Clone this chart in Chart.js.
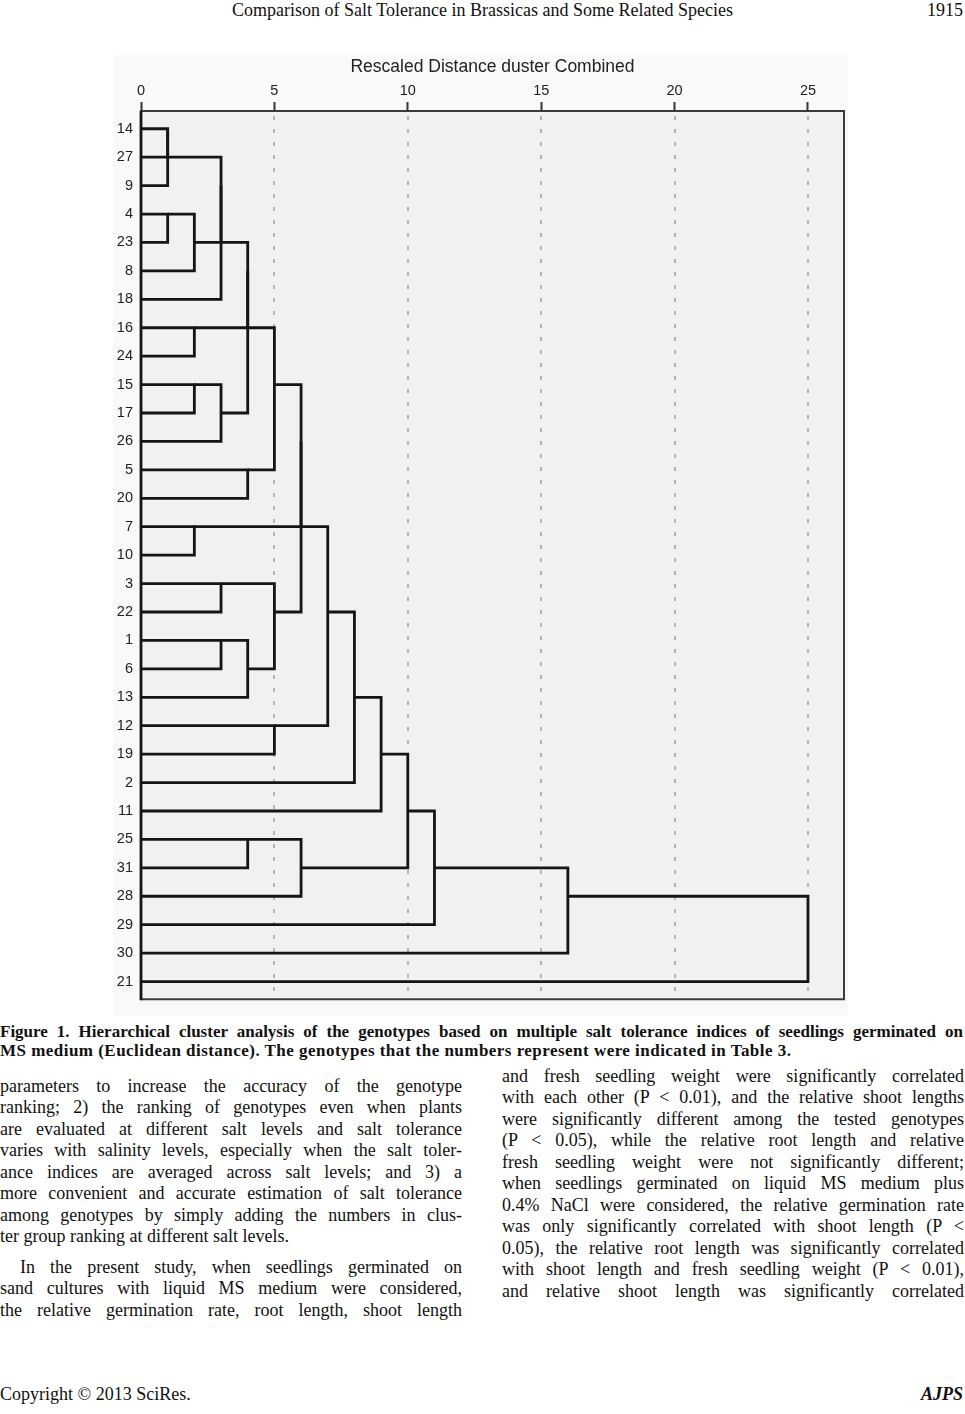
<!DOCTYPE html>
<html>
<head>
<meta charset="utf-8">
<script src="https://cdn.jsdelivr.net/npm/chart.js@4.4.0/dist/chart.umd.min.js"></script>
<style>
  html, body { margin: 0; padding: 0; background: #fff; }
  body { width: 965px; height: 1414px; position: relative; overflow: hidden;
         font-family: 'Liberation Serif', 'Times New Roman', serif; color: #111; }
  .ln { position: absolute; white-space: nowrap; height: 22px; line-height: 22px; font-size: 18px; }
  .j { text-align: justify; text-align-last: justify; white-space: normal; overflow: hidden; }
  .cap { font-weight: bold; font-size: 17px; }
  #wrap { position: absolute; left: 113px; top: 55px; width: 735px; height: 961px; }
</style>
</head>
<body>
<div class="ln" style="left:0;width:965px;top:-1px;text-align:center;">Comparison of Salt Tolerance in Brassicas and Some Related Species</div>
<div class="ln" style="right:2px;top:-1px;">1915</div>

<div id="wrap"><canvas id="dendro" width="735" height="961"></canvas></div>

<div class="ln j cap" style="left:0;width:963px;top:1021px;">Figure 1. Hierarchical cluster analysis of the genotypes based on multiple salt tolerance indices of seedlings germinated on</div>
<div class="ln cap" style="left:0;top:1040px;letter-spacing:0.47px;">MS medium (Euclidean distance). The genotypes that the numbers represent were indicated in Table 3.</div>

<div class="ln" style="left:0;top:1383px;">Copyright © 2013 SciRes.</div>
<div class="ln" style="right:2px;top:1383px;font-weight:bold;font-style:italic;">AJPS</div>

<script>
// genotype order down the dendrogram
const genotypes = ['14', '27', '9', '4', '23', '8', '18', '16', '24', '15', '17', '26', '5', '20', '7',
                   '10', '3', '22', '1', '6', '13', '12', '19', '2', '11', '25', '31', '28', '29', '30', '21'];

// agglomeration steps: a string is a genotype, a number is an earlier step
const mergeLeft  = ['14', 0, '4', 2, 1, 4, '16', '15', 7, 5, 9, '5', 10, '7', '3',
                    '1', 15, 14, 12, 18, '12', 19, 21, 22, '25', 24, 23, 26, 27, 28];
const mergeRight = ['27', '9', '23', '8', 3, '18', '24', '17', '26', 6, 8, '20', 11, '10', '22',
                    '6', '13', 16, 13, 17, '19', 20, '2', '11', '31', '28', 25, '29', '30', '21'];
const mergeDist  = [1, 1, 1, 2, 3, 3, 2, 2, 3, 4, 4, 4, 5, 2, 3,
                    3, 4, 5, 6, 6, 5, 7, 8, 9, 4, 6, 10, 11, 16, 25];

const distTicks = [0, 5, 10, 15, 20, 25];
const gridTicks = [5, 10, 15, 20, 25];

const leftLines = [
    'parameters to increase the accuracy of the genotype',
    'ranking; 2) the ranking of genotypes even when plants',
    'are evaluated at different salt levels and salt tolerance',
    'varies with salinity levels, especially when the salt toler-',
    'ance indices are averaged across salt levels; and 3) a',
    'more convenient and accurate estimation of salt tolerance',
    'among genotypes by simply adding the numbers in clus-',
    'ter group ranking at different salt levels.',
    'In the present study, when seedlings germinated on',
    'sand cultures with liquid MS medium were considered,',
    'the relative germination rate, root length, shoot length'
];
const rightLines = [
    'and fresh seedling weight were significantly correlated',
    'with each other (P < 0.01), and the relative shoot lengths',
    'were significantly different among the tested genotypes',
    '(P < 0.05), while the relative root length and relative',
    'fresh seedling weight were not significantly different;',
    'when seedlings germinated on liquid MS medium plus',
    '0.4% NaCl were considered, the relative germination rate',
    'was only significantly correlated with shoot length (P <',
    '0.05), the relative root length was significantly correlated',
    'with shoot length and fresh seedling weight (P < 0.01),',
    'and relative shoot length was significantly correlated'
];

function addLines(lines, left, width, firstTop, extra) {
    lines.forEach((t, i) => {
        const d = document.createElement('div');
        let top = firstTop + i * 21.45;
        let l = left, w = width;
        const last = extra && extra.lastOf && extra.lastOf.includes(i);
        if (extra && extra.gapAfter !== undefined && i > extra.gapAfter) top += extra.gap;
        if (extra && extra.indent && extra.indent.includes(i)) { l += 20; w -= 20; }
        d.className = last ? 'ln' : 'ln j';
        d.style.left = l + 'px';
        d.style.width = w + 'px';
        d.style.top = top + 'px';
        d.textContent = t;
        document.body.appendChild(d);
    });
}
addLines(leftLines, 0, 462, 1075, { lastOf: [7], gapAfter: 7, gap: 9, indent: [8] });
addLines(rightLines, 502, 462, 1065, {});

// build fork polylines from the merge table
const nodes = [];
function nodeOf(ref) {
    if (typeof ref === 'string') return { row: genotypes.indexOf(ref), h: 0 };
    return nodes[ref];
}
const forks = mergeDist.map((d, i) => {
    const a = nodeOf(mergeLeft[i]);
    const b = nodeOf(mergeRight[i]);
    nodes[i] = { row: Math.floor((a.row + b.row) / 2), h: d };
    return [{ x: a.h, y: a.row }, { x: d, y: a.row }, { x: d, y: b.row }, { x: b.h, y: b.row }];
});

const panelPlugin = {
    id: 'panel',
    beforeDraw(chart) {
        const { ctx, chartArea: a, scales } = chart;
        ctx.save();
        ctx.fillStyle = '#f9f9f9';
        ctx.fillRect(0, 0, chart.width, chart.height);
        ctx.fillStyle = '#f1f1f1';
        ctx.fillRect(a.left, a.top, a.right - a.left, a.bottom - a.top);
        ctx.strokeStyle = '#b4b4b4';
        ctx.lineWidth = 2;
        ctx.setLineDash([4, 9]);
        gridTicks.forEach(v => {
            const x = Math.round(scales.x.getPixelForValue(v));
            ctx.beginPath();
            ctx.moveTo(x, a.top + 5);
            ctx.lineTo(x, a.bottom);
            ctx.stroke();
        });
        ctx.restore();
    },
    afterDatasetsDraw(chart) {
        const { ctx, chartArea: a } = chart;
        ctx.save();
        ctx.strokeStyle = '#3c3c3c';
        ctx.lineWidth = 2;
        ctx.beginPath();
        ctx.moveTo(a.left, a.bottom);
        ctx.lineTo(a.right, a.bottom);
        ctx.lineTo(a.right, a.top);
        ctx.stroke();
        ctx.strokeStyle = '#151515';
        ctx.lineWidth = 2.8;
        ctx.beginPath();
        ctx.moveTo(a.left, a.top);
        ctx.lineTo(a.left, a.bottom + 1);
        ctx.stroke();
        ctx.restore();
    }
};

const ctx = document.getElementById('dendro').getContext('2d');
new Chart(ctx, {
    type: 'scatter',
    data: {
        datasets: forks.map(pts => ({
            data: pts,
            showLine: true,
            borderColor: '#151515',
            borderWidth: 2.8,
            pointRadius: 0,
            pointHoverRadius: 0,
            fill: false,
            tension: 0,
            clip: false,
            borderJoinStyle: 'miter'
        }))
    },
    options: {
        responsive: false,
        animation: false,
        layout: { padding: { left: 0, right: 4, top: 0, bottom: 5 } },
        plugins: { legend: { display: false }, tooltip: { enabled: false } },
        scales: {
            x: {
                type: 'linear',
                position: 'top',
                min: 0,
                max: 26.35,
                afterBuildTicks: s => { s.ticks = distTicks.map(v => ({ value: v })); },
                afterFit: s => { s.height = 56; },
                ticks: { font: { family: 'Liberation Sans', size: 14.5 }, color: '#222', padding: 2, maxRotation: 0 },
                grid: { drawOnChartArea: false, drawTicks: true, tickLength: 9, tickWidth: 2, tickColor: '#333' },
                border: { display: true, color: '#3a3a3a', width: 2 },
                title: {
                    display: true,
                    text: 'Rescaled Distance duster Combined',
                    font: { family: 'Liberation Sans', size: 17.5 },
                    color: '#222',
                    padding: { top: 2, bottom: 0 }
                }
            },
            y: {
                type: 'linear',
                reverse: true,
                min: -0.625,
                max: 30.625,
                afterBuildTicks: s => { s.ticks = genotypes.map((g, i) => ({ value: i })); },
                afterFit: s => { s.width = 28; },
                ticks: {
                    callback: v => genotypes[v],
                    font: { family: 'Liberation Sans', size: 14.5 },
                    color: '#222',
                    padding: 8,
                    autoSkip: false
                },
                grid: { display: false, drawTicks: false },
                border: { display: false }
            }
        }
    },
    plugins: [panelPlugin]
});
</script>
</body>
</html>
